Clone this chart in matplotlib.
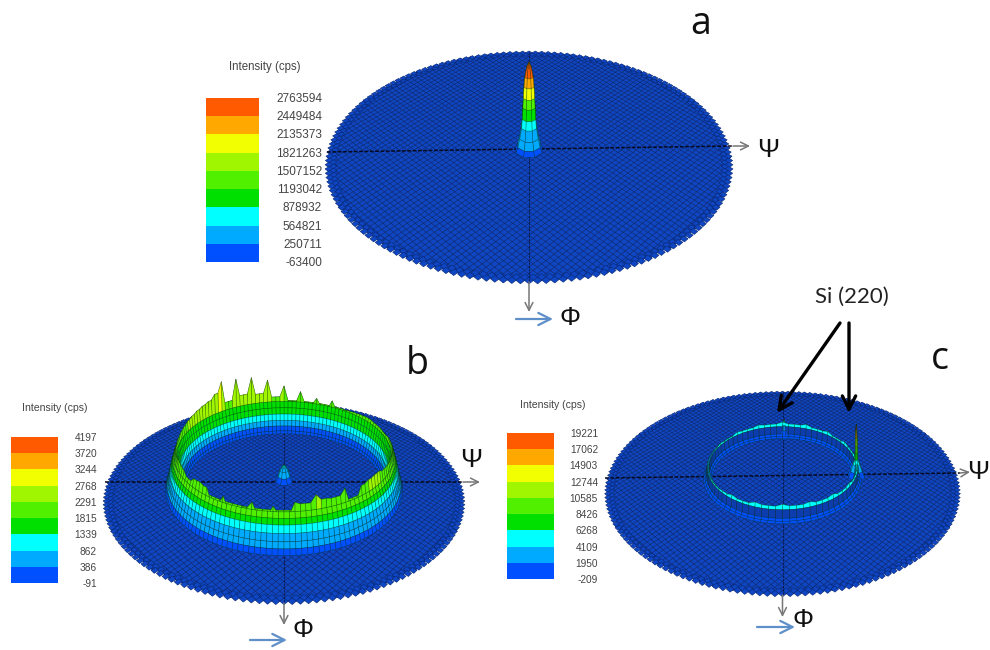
import numpy as np
import matplotlib
matplotlib.use('Agg')
import matplotlib.pyplot as plt
from matplotlib.collections import PolyCollection
from matplotlib.colors import ListedColormap, BoundaryNorm

# legend scales, top to bottom
labels_a = [2763594, 2449484, 2135373, 1821263, 1507152, 1193042, 878932, 564821, 250711, -63400]
labels_b = [4197, 3720, 3244, 2768, 2291, 1815, 1339, 862, 386, -91]
labels_c = [19221, 17062, 14903, 12744, 10585, 8426, 6268, 4109, 1950, -209]

band_colors = ['#ff5a00', '#ffa800', '#f2ff00', '#a0f500', '#50f000', '#00e000',
               '#00ffff', '#00aaff', '#0050ff']

# peak at the centre of panel a: radius on the disc, intensity
peak_a_r = [0, .012, .022, .027, .03, .033, .036, .04, .05, .06, .07]
peak_a_z = [2763594, 2600000, 2300000, 2000000, 1650000, 1350000, 1000000, 720000, 400000, 150000, 0]

# small peak in the centre of panel b
peak_b_r = [0, .012, .025, .035, .05]
peak_b_z = [1000, 850, 650, 300, 0]

# the two Si (220) peaks of panel c
peak_c1_r = [0, .003, .005, .006, .007, .008, .02, .035, .05]
peak_c1_z = [19221, 17000, 14000, 11000, 8500, 6000, 4500, 2000, 0]
peak_c2_r = [0, .008, .015, .03]
peak_c2_z = [7000, 5000, 3000, 0]

# ring wall cross sections, nan marks the ridge row
wall_b_r = [.67, .662, .654, .646, .638, .63, .622, .615, .608, .6, .592, .584, .576, .568, .56]
wall_b_z = [0, 300, 620, 1000, 1400, 1700, 2000, np.nan, 2000, 1600, 1200, 800, 450, 150, 0]
wall_c_r = [.452, .444, .436, .434, .432, .427, .422, .42, .418, .41, .402]
wall_c_z = [450, 1000, 1700, 0, 4500, np.nan, 4500, 0, 1700, 1000, 450]

# ridge height around the ring, every 5 deg starting on the +psi side
ridge_b = [2300, 2200, 2200, 2100, 2150, 2150, 2200, 2200, 2150, 2100, 2050, 1900,
           2400, 1900, 2350, 1950, 2700, 2000, 3050, 2300, 3500, 2600, 3800, 2700,
           3900, 2500, 4000, 3300, 3000, 2900, 2800, 2700, 2600, 2500, 2400, 2300,
           2200, 2300, 2300, 2400, 2500, 2500, 2400, 2200, 2450, 2500, 2400, 1750,
           2300, 1750, 2000, 2350, 1750, 2250, 1800, 2450, 2350, 2750, 2450, 2400,
           2730, 1900, 2500, 2600, 2650, 2650, 2500, 2450, 2400, 2400, 2350, 2300]
# every 10 deg
ridge_c = [4800, 5400, 5000, 5600, 4900, 5700, 5200, 6000, 5400, 6100, 5400, 5800,
           5200, 5500, 4800, 5100, 4600, 4400, 4300, 4400, 4600, 4800, 5100, 5700,
           5200, 6000, 5500, 6200, 5600, 6100, 5500, 6000, 5200, 5700, 5000, 5200]

cmap = ListedColormap(band_colors[::-1])
cmap.set_under('#0c3cae')
cmap.set_over(band_colors[0])


def project(p, u, v, z=0):
    d = 1 + p['k'] * np.asarray(v, dtype=float)
    x = p['cx'] + p['A'] * np.asarray(u, dtype=float) / d
    y = p['cy'] - (p['B'] * np.asarray(v, dtype=float) + p['s'] * np.asarray(z, dtype=float)) / d
    return np.column_stack([x, y])


def disc_cells(p):
    du, dv = .0185, .022
    cells = []
    for i in range(-55, 56):
        for j in range(-46, 47):
            if (i + j) % 2:
                continue
            u, v = i * du, j * dv
            if u * u + v * v > .97:
                continue
            cells.append(project(p, [u - du, u, u + du, u], [v, v + dv, v, v - dv]))
    # two rims of cells so the outline stays round
    for r, off in [(.97, 0), (.99, .5)]:
        for t in (np.arange(170) + off) * 2 * np.pi / 170:
            u, v = r * np.cos(t), r * np.sin(t)
            cells.append(project(p, [u - du, u, u + du, u], [v, v + dv, v, v - dv]))
    return cells


def peak_faces(p, u0, v0, rr, zz, n=8):
    faces = []
    ang = np.radians(np.arange(n + 1) * 360 / n + 22.5)
    for i in range(len(rr) - 1):
        for j in range(n):
            uu = u0 + np.array([rr[i] * np.cos(ang[j]), rr[i] * np.cos(ang[j + 1]),
                                rr[i + 1] * np.cos(ang[j + 1]), rr[i + 1] * np.cos(ang[j])])
            vv = v0 + np.array([rr[i] * np.sin(ang[j]), rr[i] * np.sin(ang[j + 1]),
                                rr[i + 1] * np.sin(ang[j + 1]), rr[i + 1] * np.sin(ang[j])])
            z4 = [zz[i], zz[i], zz[i + 1], zz[i + 1]]
            faces.append((vv.mean(), project(p, uu, vv, z4), (zz[i] + zz[i + 1]) / 2))
    return faces


def ring_faces(p, rr, zz, ridge, shade=np.mean):
    # in-between nodes take the lower neighbour so the spikes stay thin
    fine = []
    for i in range(len(ridge)):
        fine += [ridge[i], min(ridge[i], ridge[(i + 1) % len(ridge)])]
    faces = []
    n = len(fine)
    ang = np.radians(np.arange(n + 1) * 360 / n)
    for i in range(len(rr) - 1):
        for j in range(n):
            j2 = (j + 1) % n
            za = [fine[j] if np.isnan(zz[i]) else zz[i], fine[j2] if np.isnan(zz[i]) else zz[i],
                  fine[j2] if np.isnan(zz[i + 1]) else zz[i + 1], fine[j] if np.isnan(zz[i + 1]) else zz[i + 1]]
            uu = np.array([rr[i] * np.cos(ang[j]), rr[i] * np.cos(ang[j + 1]),
                           rr[i + 1] * np.cos(ang[j + 1]), rr[i + 1] * np.cos(ang[j])])
            vv = np.array([rr[i] * np.sin(ang[j]), rr[i] * np.sin(ang[j + 1]),
                           rr[i + 1] * np.sin(ang[j + 1]), rr[i + 1] * np.sin(ang[j])])
            faces.append((vv.mean(), project(p, uu, vv, za), shade(za)))
    return faces


fig = plt.figure(figsize=(9.9, 6.5), dpi=100)
ax = fig.add_axes([0, 0, 1, 1])
ax.set_xlim(0, 990)
ax.set_ylim(650, 0)
ax.axis('off')


def draw_surface(p, labels, faces):
    ax.add_collection(PolyCollection(disc_cells(p), facecolors='#0f46c4', edgecolors='#0a2a78',
                                     linewidths=.45, zorder=1))
    faces = sorted(faces, key=lambda f: -f[0])
    norm = BoundaryNorm(labels[::-1], cmap.N)
    pc = PolyCollection([f[1] for f in faces], array=np.array([f[2] for f in faces]), cmap=cmap,
                        norm=norm, edgecolors='#0a301070', linewidths=.45, zorder=3)
    ax.add_collection(pc)


def draw_legend(title, labels, x0, x1, y0, y1, tx, ty, title_size, num_size, num_x):
    edges = np.linspace(y0, y1, len(labels))
    for i in range(len(band_colors)):
        ax.fill_between([x0, x1], edges[i], edges[i + 1], color=band_colors[i], lw=0)
    ax.text(tx, ty, title, ha='center', va='center', fontsize=title_size, color='#444444',
            family='Liberation Sans')
    for lab, y in zip(labels, edges):
        ax.text(num_x, y + 1, str(lab), ha='right', va='center', fontsize=num_size, color='#444444',
                family='Liberation Sans')


def draw_axes(p, hx0, hy0, hx1, hy1, htip, vtop, vtip):
    ax.plot([hx0, hx1], [hy0, hy1], color='#050a20', lw=1.1, ls=(0, (2.5, 1)), zorder=2)
    ax.plot([p['cx'], p['cx']], [vtop, vtip[1]], color='#0a1a50', lw=.8, ls=(0, (2, 1)), zorder=2)
    ax.annotate('', xy=htip, xytext=(hx1, hy1),
                arrowprops=dict(arrowstyle='->', color='#777777', lw=1.1, shrinkA=0, shrinkB=0, mutation_scale=14))
    ax.annotate('', xy=(p['cx'], vtip[2]), xytext=(p['cx'], vtip[1]),
                arrowprops=dict(arrowstyle='->', color='#777777', lw=1.1, shrinkA=0, shrinkB=0, mutation_scale=14))


def blue_arrow(x0, x1, y):
    ax.annotate('', xy=(x1, y), xytext=(x0, y),
                arrowprops=dict(arrowstyle='->', color='#5f8fc8', lw=1.6, shrinkA=0, shrinkB=0, mutation_scale=22))


def dim_low(za):
    # the steep step under the rim of panel c reads as base colour
    return np.min(za) - 300


pa = dict(cx=529, cy=150, A=200, B=112.5, k=.148, s=88 / 2763594)
pb = dict(cx=284, cy=481, A=175, B=95, k=.22, s=.0162)
pc_ = dict(cx=782.5, cy=477, A=174, B=98.8, k=.163, s=.0027)

# panel a
draw_surface(pa, labels_a, peak_faces(pa, 0, 0, peak_a_r, peak_a_z))
draw_axes(pa, 327, 152, 733, 146, (750, 146), 52, (None, 282, 312))
draw_legend('Intensity (cps)', labels_a, 206, 259, 98, 262, 265, 67, 8.3, 8.5, 322)

# panel b
faces_b = ring_faces(pb, wall_b_r, wall_b_z, ridge_b) + peak_faces(pb, 0, 0, peak_b_r, peak_b_z)
draw_surface(pb, labels_b, faces_b)
draw_axes(pb, 105, 482, 463, 482, (480, 482), 403, (None, 603, 625))
draw_legend('Intensity (cps)', labels_b, 11, 58, 437, 583, 55, 408, 7.6, 7.3, 97)

# panel c
faces_c = ring_faces(pc_, wall_c_r, wall_c_z, ridge_c, shade=dim_low) \
    + peak_faces(pc_, .425, .01, peak_c1_r, peak_c1_z) + peak_faces(pc_, .01, .43, peak_c2_r, peak_c2_z)
draw_surface(pc_, labels_c, faces_c)
draw_axes(pc_, 605, 478, 960, 473, (970, 472), 392, (None, 595, 617))
draw_legend('Intensity (cps)', labels_c, 507, 554, 433, 579, 553, 405, 7.6, 7.3, 598)

# letters and symbols added on top of the figure
for txt, x, y in [('a', 701, 24), ('b', 417, 364), ('c', 940, 359)]:
    ax.text(x, y, txt, ha='center', va='center', fontsize=27, color='#111111', family='Open Sans')
for x, y in [(768, 150), (471, 460), (978, 472)]:
    ax.text(x, y, 'Ψ', ha='center', va='center', fontsize=19, color='#111111', family='Liberation Sans')
for x, y in [(570, 318), (303, 630), (803, 620)]:
    ax.text(x, y, 'Φ', ha='center', va='center', fontsize=19, color='#111111', family='Liberation Sans')
blue_arrow(516, 553, 319)
blue_arrow(250, 287, 640)
blue_arrow(757, 795, 627)

ax.text(852, 297, 'Si (220)', ha='center', va='center', fontsize=16, color='#222222', family='Lato')
for start, tip in [((840, 323), (777, 413)), ((849, 323), (849, 413))]:
    ax.annotate('', xy=tip, xytext=start, zorder=6,
                arrowprops=dict(arrowstyle='->', color='black', lw=2.4, shrinkA=0, shrinkB=0, mutation_scale=24))

fig.savefig('out.png', dpi=100, facecolor='white')
